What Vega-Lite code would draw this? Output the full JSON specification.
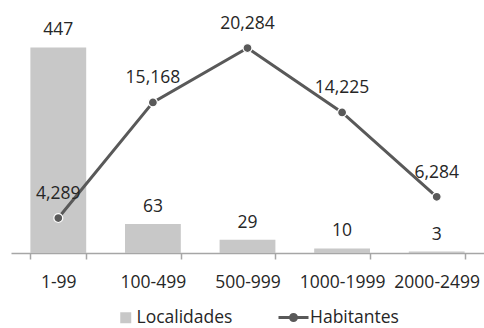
{
  "$schema": "https://vega.github.io/schema/vega-lite/v6.json",
  "width": 473,
  "height": 253,
  "autosize": {"type": "none"},
  "padding": {"left": 11, "top": 0, "right": 0, "bottom": 75},
  "background": "white",
  "config": {
    "view": {"stroke": null},
    "font": "Open Sans",
    "text": {"font": "Open Sans", "fontSize": 17.5, "color": "#262626"}
  },
  "data": {
    "values": [
      {"rango": "1-99", "localidades": 447, "habitantes": 4289},
      {"rango": "100-499", "localidades": 63, "habitantes": 15168},
      {"rango": "500-999", "localidades": 29, "habitantes": 20284},
      {"rango": "1000-1999", "localidades": 10, "habitantes": 14225},
      {"rango": "2000-2499", "localidades": 3, "habitantes": 6284}
    ]
  },
  "encoding": {
    "x": {
      "field": "rango",
      "type": "nominal",
      "sort": null,
      "scale": {"paddingInner": 0.41, "paddingOuter": 0.205},
      "axis": {
        "title": null,
        "labelAngle": 0,
        "labelFont": "Open Sans",
        "labelFontSize": 17.5,
        "labelColor": "#262626",
        "labelPadding": 14,
        "domainColor": "#a6a6a6",
        "domainWidth": 1.5,
        "tickColor": "#a6a6a6",
        "tickWidth": 1.5,
        "tickSize": 6,
        "tickBand": "extent"
      }
    }
  },
  "layer": [
    {
      "encoding": {
        "y": {"field": "localidades", "type": "quantitative", "scale": {"domain": [0, 550]}, "axis": null}
      },
      "layer": [
        {
          "mark": {"type": "bar"},
          "encoding": {
            "fill": {
              "datum": "Localidades",
              "scale": {"range": ["#c8c8c8"]},
              "legend": {
                "title": null,
                "orient": "none",
                "legendX": 106,
                "legendY": 309,
                "symbolType": "square",
                "symbolSize": 121,
                "symbolStrokeWidth": 0,
                "labelFont": "Open Sans",
                "labelFontSize": 17.5,
                "labelColor": "#262626",
                "labelOffset": 2
              }
            }
          }
        },
        {
          "mark": {"type": "text", "baseline": "middle", "dy": -17},
          "encoding": {"text": {"field": "localidades", "type": "quantitative"}}
        }
      ]
    },
    {
      "encoding": {
        "y": {"field": "habitantes", "type": "quantitative", "scale": {"domain": [1000, 24800]}, "axis": null}
      },
      "layer": [
        {
          "mark": {"type": "line", "strokeWidth": 3},
          "encoding": {
            "stroke": {
              "datum": "Habitantes",
              "scale": {"range": ["#595959"]},
              "legend": {
                "title": null,
                "orient": "none",
                "legendX": 266,
                "legendY": 301,
                "symbolType": "M-1,0H1M0.2,0A0.2,0.2,0,1,1,-0.2,0A0.2,0.2,0,1,1,0.2,0Z",
                "symbolSize": 900,
                "symbolStrokeWidth": 3,
                "symbolFillColor": "#595959",
                "labelFont": "Open Sans",
                "labelFontSize": 17.5,
                "labelColor": "#262626",
                "labelOffset": 0
              }
            }
          }
        },
        {
          "mark": {"type": "point", "filled": true, "size": 80, "color": "#595959", "stroke": "white", "strokeWidth": 1.2, "opacity": 1}
        },
        {
          "mark": {"type": "text", "baseline": "middle", "dy": -24},
          "encoding": {"text": {"field": "habitantes", "type": "quantitative", "format": ","}}
        }
      ]
    }
  ],
  "resolve": {"scale": {"y": "independent", "fill": "independent", "stroke": "independent"}}
}
